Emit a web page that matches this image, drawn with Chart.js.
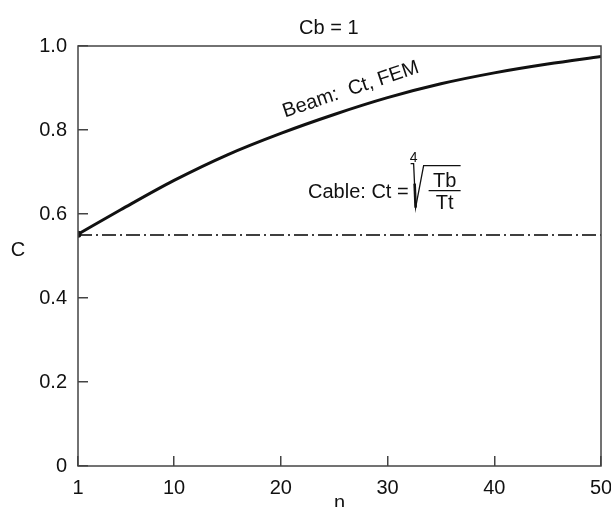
<!DOCTYPE html>
<html>
<head>
<meta charset="utf-8">
<script src="https://cdn.jsdelivr.net/npm/chart.js@4.4.1/dist/chart.umd.min.js"></script>
<style>
  html, body { margin: 0; padding: 0; background: #fff; }
  #wrap { width: 611px; height: 507px; }
</style>
</head>
<body>
<div id="wrap"><canvas id="cChart" width="611" height="507"></canvas></div>
<script>
// values
const nValues = [1, 5, 10, 15, 20, 25, 30, 35, 40, 45, 50];
const beamCt = [0.552, 0.61, 0.68, 0.741, 0.792, 0.837, 0.877, 0.91, 0.936, 0.957, 0.975];
const cableN = [1, 50];
const cableCt = [0.55, 0.55];
const xTicks = [1, 10, 20, 30, 40, 50];
const yTicks = [0, 0.2, 0.4, 0.6, 0.8, 1.0];

const FONT = "'Liberation Sans', Arial, Helvetica, sans-serif";
const INK = "#111";

// frame box, titles and the two labels inside the plot
const notes = {
  id: "notes",
  afterDraw(chart) {
    const { ctx, chartArea: a, scales: { x, y } } = chart;
    ctx.save();
    ctx.strokeStyle = "#444";
    ctx.lineWidth = 1.5;
    ctx.strokeRect(a.left, a.top, a.right - a.left, a.bottom - a.top);

    ctx.fillStyle = INK;
    ctx.font = "20px " + FONT;
    ctx.textAlign = "center";
    ctx.textBaseline = "middle";
    ctx.fillText("Cb = 1", x.getPixelForValue(24.5), 28);
    // upright y-axis name
    ctx.fillText("C", 18, y.getPixelForValue(0.514));

    // beam label follows the curve
    ctx.save();
    ctx.translate(x.getPixelForValue(20.4), y.getPixelForValue(0.83));
    ctx.rotate(-18.5 * Math.PI / 180);
    ctx.textAlign = "left";
    ctx.textBaseline = "alphabetic";
    ctx.fillText("Beam:  Ct, FEM", 0, 0);
    ctx.restore();

    // cable formula
    const tx = x.getPixelForValue(22.55);
    const by = y.getPixelForValue(0.639);
    ctx.textAlign = "left";
    ctx.textBaseline = "alphabetic";
    ctx.fillText("Cable: Ct =", tx, by);
    const rx = tx + ctx.measureText("Cable: Ct =").width + 4;

    ctx.strokeStyle = INK;
    ctx.lineWidth = 1.3;
    ctx.beginPath();
    ctx.moveTo(rx - 2, by - 34);
    ctx.lineTo(rx + 1, by - 34);
    ctx.lineTo(rx + 3, by + 10);
    ctx.lineTo(rx + 11, by - 32);
    ctx.lineTo(rx + 48, by - 32);
    ctx.stroke();
    ctx.lineWidth = 2.6;
    ctx.beginPath();
    ctx.moveTo(rx + 2, by - 14);
    ctx.lineTo(rx + 3, by + 10);
    ctx.stroke();

    ctx.lineWidth = 1.3;
    ctx.beginPath();
    ctx.moveTo(rx + 16, by - 7);
    ctx.lineTo(rx + 48, by - 7);
    ctx.stroke();

    ctx.textAlign = "center";
    ctx.fillText("Tb", rx + 32, by - 11);
    ctx.fillText("Tt", rx + 32, by + 11);
    ctx.font = "14px " + FONT;
    ctx.fillText("4", rx + 1, by - 36);
    ctx.restore();
  }
};

new Chart(document.getElementById("cChart"), {
  type: "line",
  data: {
    datasets: [
      {
        label: "Beam: Ct, FEM",
        data: nValues.map((n, i) => ({ x: n, y: beamCt[i] })),
        borderColor: INK,
        backgroundColor: INK,
        borderWidth: 3,
        cubicInterpolationMode: "monotone",
        pointRadius: (c) => (c.dataIndex === 0 ? 3.5 : 0),
        pointBorderWidth: 0,
        fill: false
      },
      {
        label: "Cable",
        data: cableN.map((n, i) => ({ x: n, y: cableCt[i] })),
        borderColor: "#000",
        borderWidth: 1.4,
        borderDash: [14, 4, 2, 4],
        pointRadius: 0,
        fill: false
      }
    ]
  },
  options: {
    responsive: false,
    animation: false,
    events: [],
    layout: { padding: { left: 0, top: 46, right: 10, bottom: 0 } },
    plugins: { legend: { display: false }, tooltip: { enabled: false }, title: { display: false } },
    scales: {
      x: {
        type: "linear",
        min: 1,
        max: 50,
        afterBuildTicks: (s) => { s.ticks = xTicks.map((v) => ({ value: v })); },
        afterFit: (s) => { s.height = 41; s.paddingLeft = 0; s.paddingRight = 0; },
        grid: { drawOnChartArea: false, tickLength: -10, color: "#444", lineWidth: 1.5 },
        border: { display: false },
        ticks: { color: INK, font: { family: FONT, size: 20 }, padding: 20, maxRotation: 0, autoSkip: false },
        title: { display: true, text: "n", color: INK, font: { family: FONT, size: 20 }, padding: { top: 0, bottom: -8 } }
      },
      y: {
        min: 0,
        max: 1,
        afterBuildTicks: (s) => { s.ticks = yTicks.map((v) => ({ value: v })); },
        afterFit: (s) => { s.width = 78; s.paddingTop = 0; s.paddingBottom = 0; },
        grid: { drawOnChartArea: false, tickLength: -10, color: "#444", lineWidth: 1.5 },
        border: { display: false },
        ticks: {
          color: INK,
          font: { family: FONT, size: 20 },
          padding: 21,
          callback: (v) => (v === 0 ? "0" : v.toFixed(1))
        },
        title: { display: false }
      }
    }
  },
  plugins: [notes]
});
</script>
</body>
</html>
